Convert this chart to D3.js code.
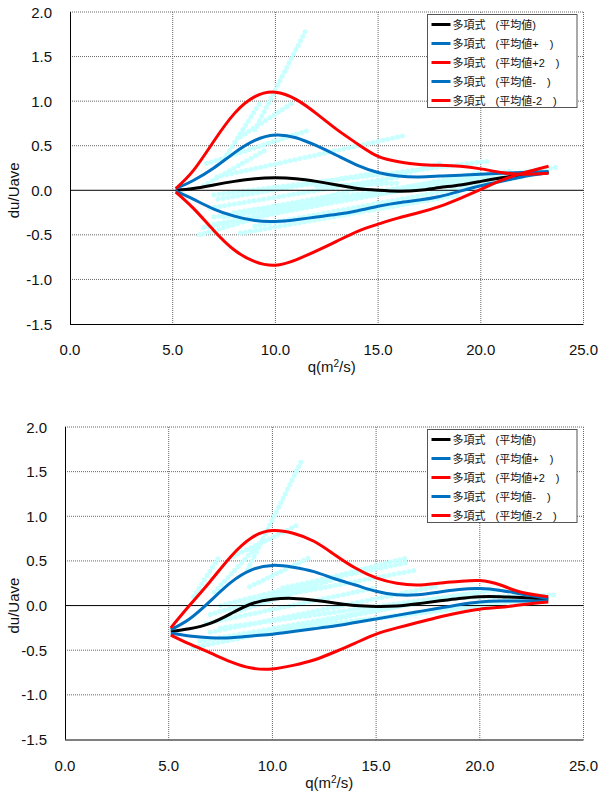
<!DOCTYPE html>
<html>
<head>
<meta charset="utf-8">
<script src="https://cdn.jsdelivr.net/npm/d3@7"></script>
<style>
html,body{margin:0;padding:0;background:#fff;}
svg{display:block;}
text{font-family:"Liberation Sans",Arial,"Noto Sans CJK JP",sans-serif;}
</style>
</head>
<body>
<svg id="chart" width="599" height="791"></svg>
<script>
// ---------- data ----------
const xTicks = [0, 5, 10, 15, 20, 25];
const yTicks = [-1.5, -1.0, -0.5, 0.0, 0.5, 1.0, 1.5, 2.0];
const seriesNames = ["多項式 (平均値)", "多項式 (平均値+\u3000)", "多項式 (平均値+2\u3000)", "多項式 (平均値-\u3000)", "多項式 (平均値-2\u3000)"];
const seriesColors = ["#000000", "#0070c0", "#ff0000", "#0070c0", "#ff0000"];

// chart 1 curves
const q1 = [5.15, 6, 7, 8, 9, 10, 11, 12, 13, 14, 15, 16, 17, 18, 19, 20, 21, 22, 23.3];
const mean1   = [0.00, 0.02, 0.06, 0.10, 0.13, 0.14, 0.13, 0.10, 0.06, 0.02, 0.00, -0.01, 0.00, 0.03, 0.06, 0.10, 0.14, 0.17, 0.20];
const plus1   = [0.02, 0.11, 0.25, 0.42, 0.56, 0.62, 0.59, 0.50, 0.39, 0.28, 0.20, 0.16, 0.15, 0.16, 0.17, 0.18, 0.19, 0.20, 0.21];
const plus2_1 = [0.02, 0.22, 0.55, 0.86, 1.05, 1.10, 1.02, 0.86, 0.68, 0.52, 0.38, 0.32, 0.29, 0.28, 0.27, 0.24, 0.20, 0.18, 0.19];
const minus1  = [-0.01, -0.10, -0.21, -0.29, -0.34, -0.35, -0.33, -0.30, -0.27, -0.23, -0.18, -0.14, -0.11, -0.07, -0.01, 0.05, 0.10, 0.15, 0.20];
const minus2_1= [-0.02, -0.20, -0.45, -0.67, -0.80, -0.84, -0.78, -0.68, -0.57, -0.46, -0.38, -0.31, -0.25, -0.18, -0.09, 0.01, 0.11, 0.19, 0.27];

// chart 2 curves
const q2 = [5.1, 6, 7, 8, 9, 10, 11, 12, 13, 14, 15, 16, 17, 18, 19, 20, 21, 22, 23.3];
const mean2   = [-0.29, -0.26, -0.20, -0.09, 0.02, 0.07, 0.08, 0.06, 0.03, 0.00, -0.01, -0.005, 0.02, 0.05, 0.08, 0.10, 0.10, 0.09, 0.07];
const plus2   = [-0.27, -0.15, 0.05, 0.26, 0.40, 0.45, 0.43, 0.38, 0.30, 0.23, 0.16, 0.12, 0.12, 0.15, 0.18, 0.19, 0.17, 0.13, 0.08];
const plus2_2 = [-0.25, 0.00, 0.27, 0.55, 0.76, 0.84, 0.81, 0.72, 0.57, 0.42, 0.31, 0.25, 0.23, 0.25, 0.27, 0.28, 0.23, 0.15, 0.10];
const minus2  = [-0.31, -0.34, -0.36, -0.36, -0.34, -0.32, -0.29, -0.26, -0.23, -0.19, -0.15, -0.11, -0.07, -0.03, 0.01, 0.04, 0.05, 0.05, 0.05];
const minus2_2= [-0.33, -0.43, -0.53, -0.63, -0.70, -0.71, -0.67, -0.61, -0.52, -0.42, -0.32, -0.25, -0.19, -0.13, -0.08, -0.04, -0.02, 0.01, 0.04];

// measured points (streaks of dots), chart 1
const pts1 = [
  [[9.0, 0.68], [11.45, 1.78]],
  [[7.5, 0.35], [9.3, 1.00]],
  [[8.3, 0.60], [10.9, 0.99]],
  [[6.65, 0.30], [11.7, 0.68]],
  [[7.15, 0.15], [16.4, 0.62]],
  [[7.0, -0.05], [20.5, 0.33]],
  [[6.3, -0.50], [18.0, 0.30]],
  [[6.5, -0.42], [20.0, 0.20]],
  [[7.0, -0.38], [21.5, 0.22]],
  [[7.5, -0.30], [23.7, 0.26]],
  [[6.8, -0.20], [16.0, 0.15]],
  [[7.2, -0.10], [15.0, 0.20]],
  [[8.3, -0.48], [19.0, -0.05]],
  [[9.0, -0.40], [22.0, 0.15]],
  [[8.0, -0.25], [20.5, 0.18]],
  [[6.5, 0.05], [9.5, 0.45]],
  [[7.0, -0.30], [13.0, -0.05]],
  [[10.0, -0.20], [23.0, 0.22]],
  [[12.0, 0.05], [16.0, 0.08]]
];
// chart 2
const pts2 = [
  [[8.8, 0.40], [11.47, 1.65]],
  [[6.2, 0.10], [7.5, 0.57]],
  [[8.1, 0.55], [11.2, 0.90]],
  [[8.9, 0.21], [11.8, 0.54]],
  [[7.5, 0.00], [16.4, 0.53]],
  [[8.0, -0.09], [13.3, 0.32]],
  [[6.2, -0.47], [18.0, 0.08], [23.7, 0.12]],
  [[6.5, -0.40], [20.0, 0.15]],
  [[7.0, -0.30], [18.0, 0.22]],
  [[7.5, -0.25], [21.0, 0.18]],
  [[6.8, -0.20], [15.0, 0.20]],
  [[8.5, -0.35], [22.5, 0.10]],
  [[9.5, -0.30], [23.0, 0.08]],
  [[7.0, -0.10], [12.0, 0.25]],
  [[9.0, 0.05], [17.0, 0.40]],
  [[7.2, 0.15], [9.6, 0.75]],
  [[10.5, 0.20], [16.5, 0.48]]
];

// ---------- drawing ----------
const svg = d3.select("#chart");

function drawChart(cfg) {
  const {left, top, right, bottom, q, series, pts} = cfg;
  const x = d3.scaleLinear().domain([0, 25]).range([left, right]);
  const y = d3.scaleLinear().domain([-1.5, 2.0]).range([bottom, top]);
  const g = svg.append("g");

  // grid
  g.selectAll(".gx").data(xTicks.filter(d => d > 0)).join("line")
    .attr("x1", d => x(d)).attr("x2", d => x(d)).attr("y1", top).attr("y2", bottom)
    .attr("stroke", "#666").attr("stroke-width", 1).attr("stroke-dasharray", "1,1");
  g.selectAll(".gy").data(yTicks.filter(d => d !== 0 && d !== -1.5)).join("line")
    .attr("x1", left).attr("x2", right).attr("y1", d => y(d)).attr("y2", d => y(d))
    .attr("stroke", "#666").attr("stroke-width", 1).attr("stroke-dasharray", "1,1");

  // measured points
  const pl = d3.line().x(d => x(d[0])).y(d => y(d[1]));
  g.selectAll(".pts").data(pts).join("path")
    .attr("d", pl).attr("fill", "none").attr("stroke", "#c8ffff")
    .attr("stroke-width", 5).attr("stroke-linecap", "round").attr("stroke-dasharray", "0,5");

  // zero line
  g.append("line").attr("x1", left).attr("x2", right).attr("y1", y(0)).attr("y2", y(0))
    .attr("stroke", "#000").attr("stroke-width", 1);

  // axes lines
  g.append("line").attr("x1", left + 0.5).attr("x2", left + 0.5).attr("y1", top).attr("y2", bottom)
    .attr("stroke", "#000");
  g.append("line").attr("x1", left).attr("x2", right).attr("y1", bottom + 0.5).attr("y2", bottom + 0.5)
    .attr("stroke", "#000");

  // curves
  const cl = d3.line().x((d, i) => x(q[i])).y(d => y(d)).curve(d3.curveNatural);
  const order = [0, 1, 3, 2, 4];
  order.forEach(i => {
    g.append("path").attr("d", cl(series[i])).attr("fill", "none")
      .attr("stroke", seriesColors[i]).attr("stroke-width", 3).attr("stroke-linejoin", "round");
  });

  // tick labels
  g.selectAll(".ty").data(yTicks).join("text")
    .attr("x", left - 18).attr("y", d => y(d) + 5.5).attr("text-anchor", "end")
    .attr("font-size", 15).attr("fill", "#111").text(d => d3.format(".1f")(d).replace("−", "-"));
  g.selectAll(".tx").data(xTicks).join("text")
    .attr("x", d => x(d)).attr("y", bottom + 31).attr("text-anchor", "middle")
    .attr("font-size", 15).attr("fill", "#111").text(d => d3.format(".1f")(d));

  // axis titles
  const xt = g.append("text").attr("x", (left + right) / 2 + 5).attr("y", bottom + 48)
    .attr("text-anchor", "middle").attr("font-size", 15).attr("fill", "#111");
  xt.append("tspan").text("q(m");
  xt.append("tspan").attr("font-size", 10).attr("dy", -5).text("2");
  xt.append("tspan").attr("dy", 5).text("/s)");
  g.append("text").attr("transform", `translate(19,${y(0)}) rotate(-90)`)
    .attr("text-anchor", "middle").attr("font-size", 15).attr("fill", "#111").text("du/Uave");

  // legend
  const lx = 427.5, ly = top + 2.5, lw = 149.5, lh = 93;
  g.append("rect").attr("x", lx).attr("y", ly).attr("width", lw).attr("height", lh)
    .attr("fill", "#fff").attr("stroke", "#555").attr("stroke-width", 1);
  seriesNames.forEach((nm, i) => {
    const cy = ly + 10 + i * 19;
    g.append("line").attr("x1", lx + 4).attr("x2", lx + 23).attr("y1", cy).attr("y2", cy)
      .attr("stroke", seriesColors[i]).attr("stroke-width", 3);
    g.append("text").attr("x", lx + 25).attr("y", cy + 4.5).attr("font-size", 11)
      .style("word-spacing", "7px").attr("fill", "#111").text(nm);
  });
}

drawChart({left: 70, top: 12, right: 583.5, bottom: 324, q: q1,
  series: [mean1, plus1, plus2_1, minus1, minus2_1], pts: pts1});
drawChart({left: 65, top: 427, right: 583.5, bottom: 739.5, q: q2,
  series: [mean2, plus2, plus2_2, minus2, minus2_2], pts: pts2});
</script>
</body>
</html>
